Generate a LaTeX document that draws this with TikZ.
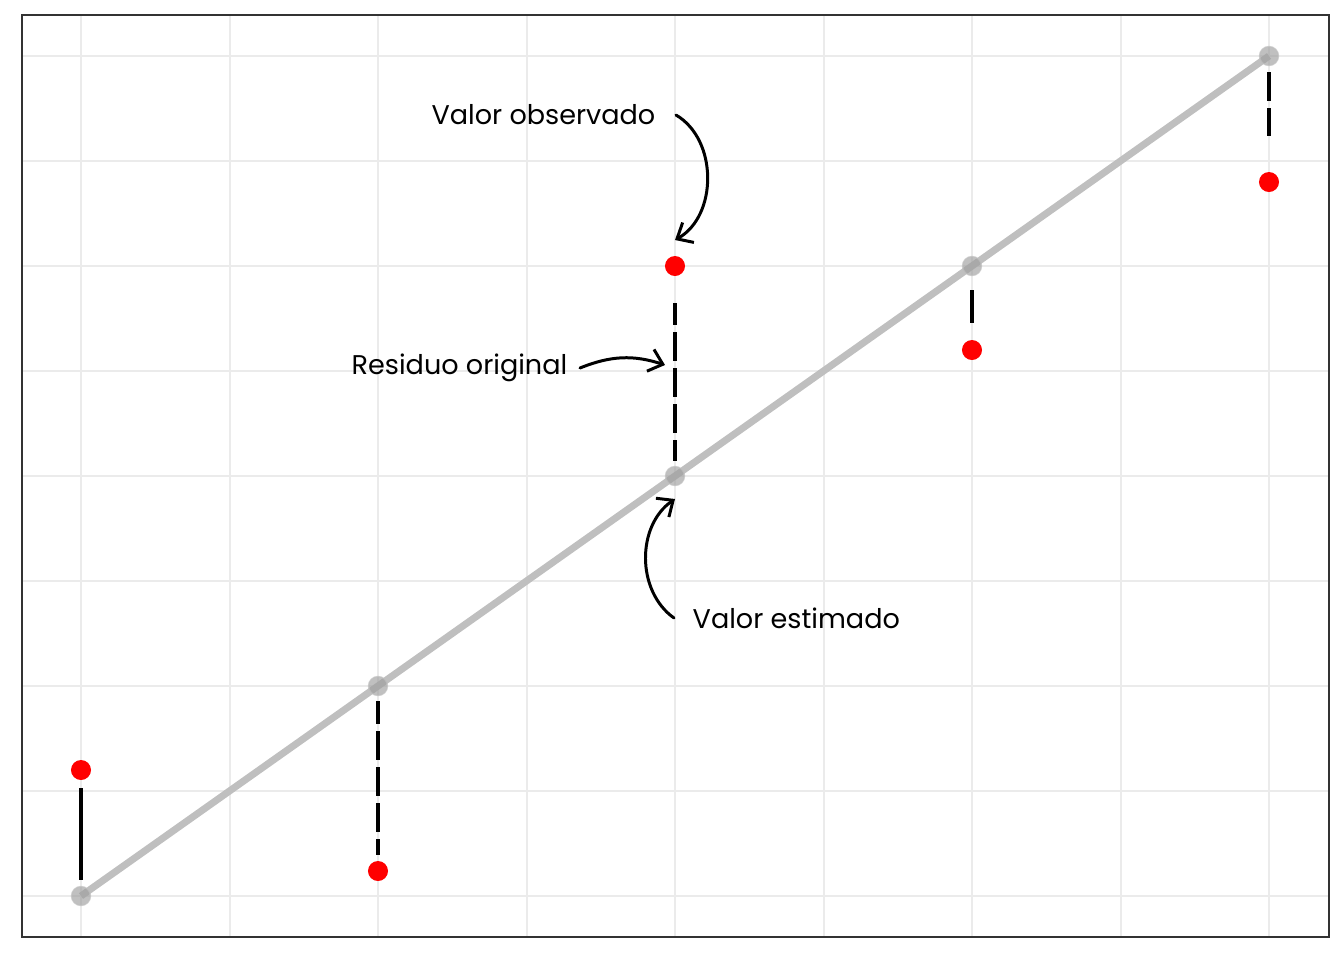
\documentclass[tikz,border=0pt]{standalone}
\usepackage{fontspec}
\setmainfont{Poppins}
\usetikzlibrary{arrows.meta,positioning,backgrounds}

\begin{document}
\begin{tikzpicture}[x=0.01cm,y=-0.01cm,>={Straight Barb[length=3.7pt,width=6.5pt]}]
\tikzstyle{gridmajor}=[draw=black!8,line width=0.75pt]
\tikzstyle{gridminor}=[draw=black!8,line width=0.4pt]
\tikzstyle{fitted}=[circle,fill=black!38,fill opacity=0.65,draw=black!25,draw opacity=0.7,line width=0.4pt,inner sep=0pt,minimum size=0.19cm]
\tikzstyle{observed}=[circle,fill=red,inner sep=0pt,minimum size=0.2cm]
\tikzstyle{residual}=[line width=1.25pt,dash pattern=on 8.25pt off 2pt]
\tikzstyle{note}=[font=\fontsize{7.7}{9}\selectfont,inner sep=0pt]
\tikzstyle{pointer}=[->,line width=0.85pt,line cap=round]
%
\useasboundingbox (0,0) rectangle (1344,960);
%
\node[fitted] (fit0) at (81,896) {};
\node[fitted] (fit1) at (378,686) {};
\node[fitted] (fit2) at (675,476) {};
\node[fitted] (fit3) at (972,266) {};
\node[fitted] (fit4) at (1269,56) {};
\node[observed] (obs0) at (81,770) {};
\node[observed] (obs1) at (378,871) {};
\node[observed] (obs2) at (675,266) {};
\node[observed] (obs3) at (972,350) {};
\node[observed] (obs4) at (1269,182) {};
% grid and fitted line
\begin{scope}[on background layer]
\foreach \x in {230,527,824,1121} \draw[gridminor] (\x,15) -- (\x,937);
\foreach \y in {791,581,371,161} \draw[gridminor] (22,\y) -- (1329,\y);
\foreach \x in {81,378,675,972,1269} \draw[gridmajor] (\x,15) -- (\x,937);
\foreach \y in {896,686,476,266,56} \draw[gridmajor] (22,\y) -- (1329,\y);
\draw[black!25,line width=2pt] (fit0.center) -- (fit4.center);
\end{scope}
\draw[black!80,line width=0.35pt] (22,15) rectangle (1329,937);
% residuals
\draw[line width=1.25pt,shorten <=1.7pt,shorten >=2pt] (fit0) -- (obs0);
\draw[residual,dash phase=1.7pt,shorten <=1.4pt,shorten >=1.4pt] (fit1) -- (obs1);
\draw[residual,dash phase=2.3pt,shorten <=1.4pt,shorten >=7.5pt] (fit2) -- (obs2);
\draw[line width=1.25pt,shorten <=4pt,shorten >=4.5pt] (fit3) -- (obs3);
\draw[residual,shorten <=1.7pt,shorten >=10pt] (fit4) -- (obs4);
%
\node[note,anchor=east] (lobs) at (656,115) {Valor observado};
\node[note,anchor=east] (lres) at (568,368) {Residuo original};
\node[note,anchor=west] (lest) at (692,618) {Valor estimado};
\coordinate (aobs) at (675,240);
\coordinate (ares) at (665,365);
\coordinate (aest) at (675,499);
\path (lobs.east) ++(20,0) coordinate (sobs);
\path (lres.east) ++(12,0) coordinate (sres);
\path (lest.west) ++(-18,0) coordinate (sest);
\draw[pointer] (sobs) to[bend left=60] (aobs);
\draw[pointer] (sres) to[bend left=20] (ares);
\draw[pointer] (sest) to[bend left=55] (aest);
\end{tikzpicture}
\end{document}
